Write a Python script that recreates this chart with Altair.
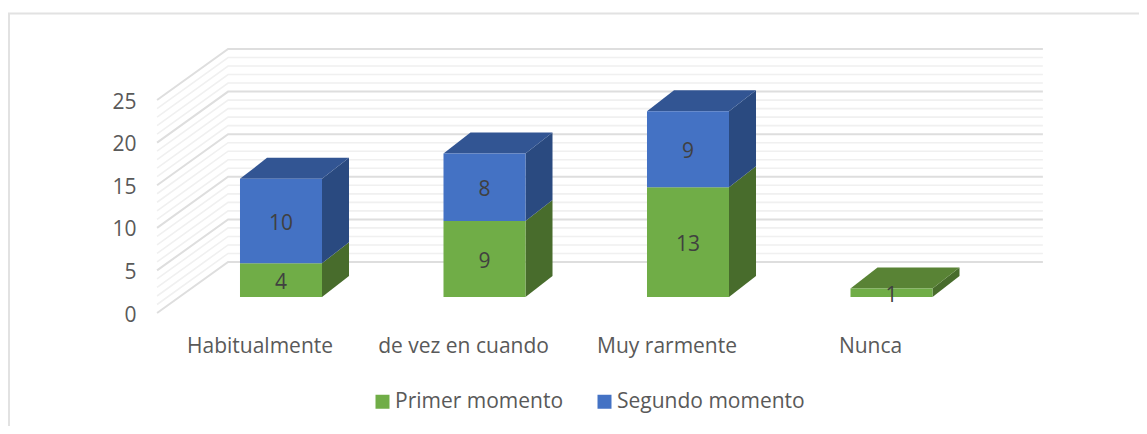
import altair as alt
import pandas as pd

categories = ["Habitualmente", "de vez en cuando", "Muy rarmente", "Nunca"]
primer = [4, 9, 13, 1]
segundo = [10, 8, 9, 0]
series = ["Primer momento", "Segundo momento"]
front_colors = ["#70AD47", "#4472C4"]
side_colors = ["#486C2C", "#2A4A80"]
top_colors = ["#598335", "#325593"]
wall_levels = list(range(0, 26))
axis_ticks = [0, 5, 10, 15, 20, 25]

HALF = 0.2015        # half bar width, in category units
DX = 0.1327          # bar depth along x
DY = 2.465           # bar depth along y
BASE = 1.878         # bar floor on the value scale
K = 0.9906           # bar value -> scale value
WALL_DX = 0.349
WALL_DY = 5.99
WALL_LEFT = -0.609
WALL_RIGHT = 3.744
LABEL_SHIFT = -0.103

front, side, top, labels = [], [], [], []
for i, cat in enumerate(categories):
    cum = 0
    last = 0
    for s, vals in enumerate([primer, segundo]):
        v = vals[i]
        if v == 0:
            continue
        y0 = BASE + K * cum
        y1 = BASE + K * (cum + v)
        key = f"{i}-{s}"
        front.append(dict(serie=series[s], x=i - HALF, x2=i + HALF, y=y0, y2=y1))
        side.append(dict(k=key, c=side_colors[s], x=i + HALF, y=y0, y2=y1))
        side.append(dict(k=key, c=side_colors[s], x=i + HALF + DX, y=y0 + DY, y2=y1 + DY))
        labels.append(dict(t=str(v), x=i, y=(y0 + y1) / 2))
        cum += v
        last = s
    ytop = BASE + K * cum
    top.append(dict(k=i, c=top_colors[last], y=ytop, x=i - HALF, x2=i + HALF))
    top.append(dict(k=i, c=top_colors[last], y=ytop + DY, x=i - HALF + DX, x2=i + HALF + DX))

grid = []
for v in wall_levels:
    major = v % 5 == 0
    for order, (x, y) in enumerate([(WALL_LEFT, v), (WALL_LEFT + WALL_DX, v + WALL_DY), (WALL_RIGHT, v + WALL_DY)]):
        grid.append(dict(v=v, o=order, x=x, y=y, major=major))
grid = pd.DataFrame(grid)

cat_df = pd.DataFrame(dict(t=categories, x=[i + LABEL_SHIFT for i in range(4)], y=[-3.95] * 4))

xs = alt.Scale(domain=[-1.3415, 4.2162], nice=False, zero=False)
ys = alt.Scale(domain=[-13.26, 35.8], nice=False, zero=False)
y_axis = alt.Axis(values=axis_ticks, title=None, domain=False, ticks=False, grid=False, offset=-128,
                  labelFont="Open Sans", labelFontSize=21, labelColor="#595959", labelPadding=0,
                  labelOffset=2)
X = alt.X("x:Q", scale=xs, axis=None)
Y = alt.Y("y:Q", scale=ys, axis=y_axis)

frame_l = alt.Chart(pd.DataFrame({"a": [0]})).mark_rule(color="#E2E2E2", strokeWidth=2).encode(
    x=alt.value(1), y=alt.value(5), y2=alt.value(418))
frame_t = alt.Chart(pd.DataFrame({"a": [0]})).mark_rule(color="#E2E2E2", strokeWidth=2).encode(
    y=alt.value(5.5), x=alt.value(0), x2=alt.value(1131))

minor_lines = alt.Chart(grid[~grid.major]).mark_line(strokeWidth=1.6, color="#F0F0F0").encode(
    x=X, y=Y, detail="v:N", order="o:Q")
major_lines = alt.Chart(grid[grid.major]).mark_line(strokeWidth=2, color="#DEDEDE").encode(
    x=X, y=Y, detail="v:N", order="o:Q")

side_layer = alt.Chart(pd.DataFrame(side)).mark_area(orient="vertical").encode(
    x=X, y=Y, y2="y2:Q", detail="k:N", color=alt.Color("c:N", scale=None))
top_layer = alt.Chart(pd.DataFrame(top)).mark_area(orient="horizontal").encode(
    y=Y, x=X, x2="x2:Q", detail="k:N", color=alt.Color("c:N", scale=None))
front_layer = alt.Chart(pd.DataFrame(front)).mark_rect().encode(
    x=X, x2="x2:Q", y=Y, y2="y2:Q",
    color=alt.Color("serie:N", scale=alt.Scale(domain=series, range=front_colors),
                    legend=alt.Legend(title=None, orient="none", legendX=364, legendY=383,
                                      direction="horizontal", symbolType="square", symbolSize=196,
                                      symbolStrokeWidth=0, labelFont="Open Sans", labelFontSize=21,
                                      labelColor="#595959", labelOffset=2, columnPadding=30,
                                      labelLimit=400, symbolOpacity=1)))
label_layer = alt.Chart(pd.DataFrame(labels)).mark_text(
    font="Open Sans", fontSize=21, color="#404040", baseline="middle", dy=3).encode(
    x=X, y=Y, text="t:N")
cat_layer = alt.Chart(cat_df).mark_text(
    font="Open Sans", fontSize=21, color="#595959", baseline="middle", align="center").encode(
    x=X, y=Y, text="t:N")

chart = alt.layer(frame_l, frame_t, minor_lines, major_lines, side_layer, top_layer,
                  front_layer, label_layer, cat_layer).resolve_scale(color="independent").properties(
    width=1131, height=418, padding=0, autosize=alt.AutoSizeParams(type="none")
).configure_view(stroke=None)

chart.save("out.html", embed_options={"renderer": "svg", "actions": False})
